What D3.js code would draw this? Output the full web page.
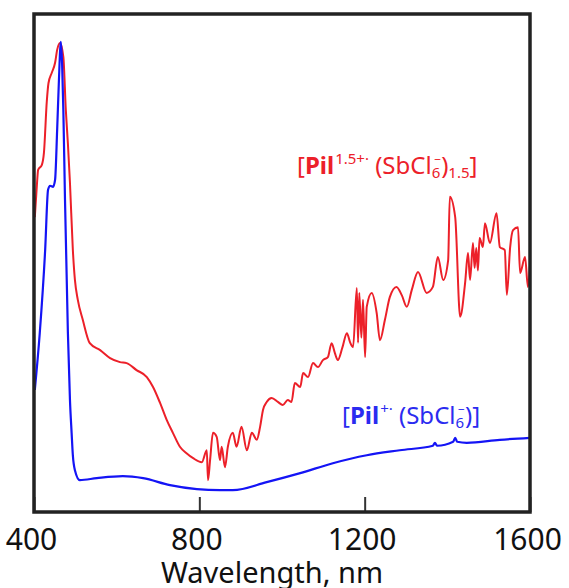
<!DOCTYPE html>
<html>
<head>
<meta charset="utf-8">
<script src="https://cdn.jsdelivr.net/npm/d3@7"></script>
<style>
  body { margin: 0; background: #fff; }
  svg { display: block; font-family: "Noto Sans", "Open Sans", sans-serif; }
</style>
</head>
<body>
<svg id="chart" width="569" height="588"></svg>
<script>
// Absorption spectra (arbitrary units)
const xTicks = [400, 800, 1200, 1600];

const blueWl = [402, 414, 427, 434, 439, 446, 451, 456, 460, 465, 468, 471, 475, 482, 487, 491, 494, 499, 511,
  552, 615, 664, 729, 794, 850, 881, 963, 1044, 1123, 1205, 1285, 1365, 1370, 1375, 1414, 1419, 1424, 1447, 1527, 1600];
const blueAbs = [24.5, 36, 52.6, 64.7, 65.5, 65.3, 66.7, 76.7, 86, 94.4, 90, 80.7, 62.7, 36, 22.5, 15.9, 11.4, 8.4, 6.4,
  6.8, 7.2, 6.8, 5.4, 4.6, 4.4, 4.4, 6.0, 7.8, 9.8, 11.4, 12.4, 13.3, 13.9, 13.3, 14.1, 14.9, 14.1, 13.9, 14.5, 14.9];

const redWl = [402, 407, 410, 419, 424, 431, 435, 443, 451, 456, 463, 471, 477, 482, 487, 494, 499, 506, 518, 535,
  560, 584, 608, 624, 648, 673, 688, 705, 721, 736, 753, 769, 785, 806, 818, 821, 826, 833, 842, 850, 854, 862,
  869, 881, 890, 902, 915, 927, 939, 947, 954, 963, 975, 990, 1002, 1014, 1023, 1031, 1044, 1051, 1063, 1075,
  1087, 1099, 1111, 1120, 1128, 1135, 1146, 1157, 1165, 1172, 1181, 1184, 1187, 1192, 1196, 1201, 1205, 1217,
  1229, 1237, 1249, 1261, 1277, 1290, 1302, 1314, 1329, 1350, 1365, 1377, 1390, 1402, 1406, 1419, 1431, 1443,
  1450, 1455, 1462, 1466, 1470, 1474, 1478, 1486, 1491, 1503, 1519, 1527, 1539, 1544, 1552, 1559, 1571, 1576,
  1588, 1595, 1600];
const redAbs = [59.2, 65.7, 68.7, 69.7, 72.1, 82.5, 86.1, 88.2, 90.2, 92.8, 94.2, 91.4, 80.7, 74, 66.1, 52.6, 46.6, 42.6, 38.6, 33.9,
  32.5, 30.9, 30.1, 29.9, 28.5, 27.1, 25.1, 21.9, 18.5, 15.9, 13.1, 11.8, 10.8, 10.0, 12.4, 6.4, 10.4, 15.9, 15.1, 10.4, 13.1, 9.0,
  13.1, 15.9, 13.1, 17.1, 12.4, 15.9, 14.5, 17.1, 20.5, 22.1, 22.9, 22.1, 21.5, 22.5, 22.1, 25.9, 25.1, 27.9, 27.1, 29.9,
  29.1, 30.5, 31.1, 33.9, 31.9, 30.5, 33, 35.9, 34, 33.1, 45.0, 34, 44, 35, 42.6, 31.1, 41.2, 44.0,
  40.0, 34.5, 38.6, 43.2, 45.2, 43.5, 41.2, 44.6, 48.2, 44.0, 45.2, 51.2, 46.6, 50.6, 63.3, 59.2, 39.2, 46.0,
  52.0, 46.6, 54.0, 49, 53, 48.5, 55, 53.2, 58.0, 54.0, 60.0, 53.2, 52.6, 43.6, 53.2, 56.6, 57.2, 48.0,
  51.2, 45.2, 49.6];

const margin = { left: 34, right: 39, top: 14, bottom: 76 };
const width = 569, height = 588;
const plotW = width - margin.left - margin.right;
const plotH = height - margin.top - margin.bottom;

const svg = d3.select('#chart');
const g = svg.append('g').attr('transform', `translate(${margin.left},${margin.top})`);

const x = d3.scaleLinear().domain([400, 1600]).range([0, plotW]);
const y = d3.scaleLinear().domain([0, 100]).range([plotH, 0]);

const line = d3.line()
    .x(d => x(d[0]))
    .y(d => y(d[1]))
    .curve(d3.curveMonotoneX);

// Spectra
g.append('path')
    .datum(redWl.map((w, i) => [w, redAbs[i]]))
    .attr('d', line)
    .attr('fill', 'none')
    .attr('stroke', '#ec2029')
    .attr('stroke-width', 2)
    .attr('stroke-linejoin', 'round');

g.append('path')
    .datum(blueWl.map((w, i) => [w, blueAbs[i]]))
    .attr('d', line)
    .attr('fill', 'none')
    .attr('stroke', '#1414f5')
    .attr('stroke-width', 2.2)
    .attr('stroke-linejoin', 'round');

// X axis with inward ticks
const xAxis = g.append('g')
    .attr('transform', `translate(0,${plotH})`)
    .call(d3.axisBottom(x).tickValues(xTicks).tickSize(-15).tickFormat(d3.format('d')));
xAxis.select('.domain').remove();
xAxis.selectAll('line').attr('stroke', '#333').attr('stroke-width', 2);
xAxis.selectAll('text')
    .attr('y', 38)
    .attr('dy', 0)
    .attr('dx', -3)
    .style('font-size', '30px')
    .style('font-family', '"Noto Sans", sans-serif')
    .attr('fill', '#111');

// Frame
g.append('rect')
    .attr('width', plotW)
    .attr('height', plotH)
    .attr('fill', 'none')
    .attr('stroke', '#222')
    .attr('stroke-width', 3.5);

// Axis title
svg.append('text')
    .attr('x', 272)
    .attr('y', 583)
    .attr('text-anchor', 'middle')
    .style('font-size', '29px')
    .attr('fill', '#111')
    .text('Wavelength, nm');

// Series labels built from tspans
function label(xPos, yPos, color, parts) {
    const t = svg.append('text')
        .attr('x', xPos)
        .attr('y', yPos)
        .attr('fill', color)
        .style('font-size', '24px');
    let shift = 0;
    parts.forEach(p => {
        const target = p.shift || 0;
        t.append('tspan')
            .attr('dy', target - shift)
            .attr('dx', p.dx || 0)
            .style('font-size', p.size ? p.size + 'px' : null)
            .style('font-weight', p.bold ? 'bold' : null)
            .text(p.t);
        shift = target;
    });
}

label(297, 174, '#ec2029', [
    { t: '[' },
    { t: 'Pil', bold: true },
    { t: '1.5+·', size: 15, shift: -10, dx: 1 },
    { t: ' (SbCl' },
    { t: '6', size: 15, shift: 4 },
    { t: '−', size: 12, shift: -10, dx: -6 },
    { t: ')' },
    { t: '1.5', size: 15, shift: 4 },
    { t: ']' }
]);

label(342, 424, '#2b2bf0', [
    { t: '[' },
    { t: 'Pil', bold: true },
    { t: '+·', size: 15, shift: -10, dx: 1 },
    { t: ' (SbCl' },
    { t: '6', size: 15, shift: 4 },
    { t: '−', size: 12, shift: -10, dx: -6 },
    { t: ')]' }
]);
</script>
</body>
</html>
